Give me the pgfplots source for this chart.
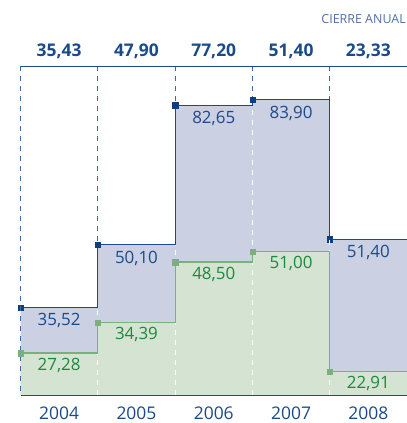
\documentclass[border=0pt]{standalone}
\usepackage{pgfplots}
\pgfplotsset{compat=1.18}
\usepackage{pgfplotstable}
\usepackage{fontspec}
\setmainfont{Open Sans}
\definecolor{dblue}{HTML}{1B4A8A}
\definecolor{mblue}{HTML}{0F3E80}
\definecolor{dashblue}{HTML}{3F6AA3}
\definecolor{lav}{HTML}{CBD0E2}
\definecolor{gfill}{HTML}{D5E3D3}
\definecolor{gline}{HTML}{7DAE7D}
\definecolor{gtext}{HTML}{1A8A3C}
\definecolor{ctext}{HTML}{4F6FA3}

\pgfplotstableread{
x hi lo
0 35.52 27.28
1 50.10 34.39
2 82.65 48.50
3 83.90 51.00
4 51.40 22.91
5 51.40 22.91
}\steps

\pgfplotstableread{
xc hi lo close
0.5 35.52 27.28 35.43
1.5 50.10 34.39 47.90
2.5 82.65 48.50 77.20
3.5 83.90 51.00 51.40
4.5 51.40 22.91 23.33
}\labs

\newcommand{\valfmt}{\pgfmathprintnumber[fixed,fixed zerofill,precision=2,use comma,assume math mode=true]{\pgfplotspointmeta}}

\begin{document}
\begin{tikzpicture}[x=1bp,y=1bp]
\path[use as bounding box] (-20.5,-28) rectangle (386.5,395);
\node[anchor=east, text=ctext, font=\fontsize{12.5}{14}\selectfont, inner sep=0pt] at (385.5,376) {CIERRE ANUAL};

% ---- axis 1: upper (blue) series
\begin{axis}[
  at={(0,0)}, anchor=south west,
  scale only axis, width=386.5bp, height=328.5bp,
  xmin=0, xmax=5, ymin=15.08, ymax=91.65,
  clip=false,
  axis line style={draw=none},
  ytick=\empty,
  xtick={0.5,1.5,2.5,3.5,4.5},
  xticklabels={2004,2005,2006,2007,2008},
  xtick style={draw=none},
  xticklabel style={anchor=center, yshift=-18bp, text=dblue, font=\fontsize{17.5}{20}\selectfont},
]
\draw[dashblue, line width=0.9bp, dash pattern=on 5bp off 5bp] (axis cs:1,91.65) -- (axis cs:1,50.10);
\draw[dashblue, line width=0.9bp, dash pattern=on 5bp off 5bp] (axis cs:2,91.65) -- (axis cs:2,82.65);
\draw[dashblue, line width=0.9bp, dash pattern=on 5bp off 5bp] (axis cs:3,91.65) -- (axis cs:3,83.90);
\draw[dashblue, line width=0.9bp, dash pattern=on 5bp off 5bp] (axis cs:4,91.65) -- (axis cs:4,83.90);

\addplot[const plot, fill=lav, draw=none] table[x=x, y=hi] {\steps} \closedcycle;
\addplot[const plot, draw=dblue, line width=1.1bp, mark=square*, mark indices={1,2,3,4,5},
  mark size=2.6bp, mark options={solid, fill=mblue, draw=mblue, line width=0.2bp}]
  table[x=x, y=hi] {\steps};

\draw[dblue, line width=1bp] (axis cs:0,91.65) -- (axis cs:5,91.65);

\coordinate (w1) at (axis cs:1,35.52);
\coordinate (w2) at (axis cs:2,50.10);
\coordinate (w3) at (axis cs:3,82.65);
\coordinate (w4) at (axis cs:4,51.40);
\coordinate (z1) at (axis cs:1,15.08);
\coordinate (z2) at (axis cs:2,15.08);
\coordinate (z3) at (axis cs:3,15.08);
\coordinate (z4) at (axis cs:4,15.08);
\coordinate (t0) at (axis cs:0,91.65);
\coordinate (z0) at (axis cs:0,15.08);
\coordinate (z5) at (axis cs:5,15.08);

% blue value labels
\addplot[draw=none, mark=none, point meta=y,
  nodes near coords={\valfmt},
  nodes near coords align={anchor=center},
  every node near coord/.append style={anchor=center, yshift=-13.5bp, text=dblue, font=\fontsize{17}{20}\selectfont}]
  table[x=xc, y=hi] {\labs};

% closing values on top
\addplot[draw=none, mark=none, point meta=explicit,
  nodes near coords={\valfmt},
  nodes near coords align={anchor=center},
  every node near coord/.append style={anchor=center, yshift=15.5bp, text=dblue, font=\bfseries\fontsize{17.5}{20}\selectfont}]
  table[x=xc, y expr=91.65, meta=close] {\labs};
\end{axis}

% ---- axis 2: lower (green) series
\begin{axis}[
  at={(0,0)}, anchor=south west,
  scale only axis, width=386.5bp, height=328.5bp,
  xmin=0, xmax=5, ymin=17.5, ymax=94.07,
  clip=false, hide axis,
]
\addplot[const plot, fill=gfill, draw=none] table[x=x, y=lo] {\steps} \closedcycle;

\draw[white, line width=1bp, dash pattern=on 5bp off 5bp] (z1) -- (w1);
\draw[white, line width=1bp, dash pattern=on 5bp off 5bp] (z2) -- (w2);
\draw[white, line width=1bp, dash pattern=on 5bp off 5bp] (z3) -- (w3);
\draw[white, line width=1bp, dash pattern=on 5bp off 5bp] (z4) -- (w4);

\addplot[const plot, draw=gline, line width=1.1bp, mark=square*, mark indices={1,2,3,4,5},
  mark size=2.6bp, mark options={solid, fill=gline, draw=gline, line width=0.2bp}]
  table[x=x, y=lo] {\steps};

\draw[dashblue, line width=0.9bp, dash pattern=on 5bp off 5bp] (t0) -- (z0);
\draw[dblue, line width=1bp] (z0) -- (z5);

\addplot[draw=none, mark=none, point meta=y,
  nodes near coords={\valfmt},
  nodes near coords align={anchor=center},
  every node near coord/.append style={anchor=center, yshift=-12bp, text=gtext, font=\fontsize{17}{20}\selectfont}]
  table[x=xc, y=lo] {\labs};
\end{axis}
\end{tikzpicture}
\end{document}
